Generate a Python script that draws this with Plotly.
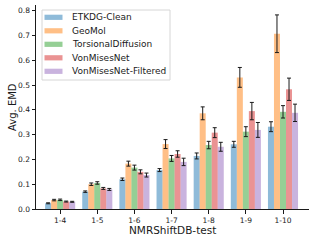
import plotly.graph_objects as go

groups = ["1-4", "1-5", "1-6", "1-7", "1-8", "1-9", "1-10"]
series_names = ["ETKDG-Clean", "GeoMol", "TorsionalDiffusion", "VonMisesNet", "VonMisesNet-Filtered"]
etkdg = [0.023, 0.070, 0.120, 0.157, 0.214, 0.261, 0.332]
geomol = [0.036, 0.100, 0.183, 0.262, 0.386, 0.531, 0.707]
torsional = [0.037, 0.105, 0.167, 0.204, 0.258, 0.312, 0.392]
vonmises = [0.030, 0.083, 0.150, 0.222, 0.308, 0.395, 0.483]
vonmises_f = [0.029, 0.079, 0.137, 0.190, 0.251, 0.319, 0.388]
etkdg_err = [0.002, 0.003, 0.005, 0.006, 0.012, 0.012, 0.020]
geomol_err = [0.003, 0.005, 0.010, 0.018, 0.026, 0.040, 0.076]
torsional_err = [0.003, 0.005, 0.010, 0.012, 0.015, 0.020, 0.025]
vonmises_err = [0.002, 0.004, 0.008, 0.013, 0.020, 0.035, 0.045]
vonmises_f_err = [0.002, 0.004, 0.008, 0.015, 0.018, 0.030, 0.035]
colors = ["rgba(31,119,180,0.5)", "rgba(255,127,14,0.5)", "rgba(44,160,44,0.5)",
          "rgba(214,39,40,0.5)", "rgba(148,103,189,0.5)"]

values = [etkdg, geomol, torsional, vonmises, vonmises_f]
errors = [etkdg_err, geomol_err, torsional_err, vonmises_err, vonmises_f_err]

W, H = 315, 241
ML, MR, MT, MB = 36, 6, 5, 32
PW, PH = W - ML - MR, H - MT - MB


def px_x(px):
    return (px - ML) / PW


def px_y(py):
    return (H - MB - py) / PH


fig = go.Figure()
for name, v, e, c in zip(series_names, values, errors, colors):
    fig.add_trace(go.Bar(
        x=list(range(len(groups))), y=v, name=name,
        marker=dict(color=c, line=dict(width=0)),
        error_y=dict(type="data", array=e, color="#1a1a1a", thickness=1, width=2),
        showlegend=False,
    ))

shapes = []
annotations = []
# legend box
x0, x1 = px_x(42), px_x(170)
y0, y1 = px_y(80), px_y(10)
shapes.append(dict(type="rect", xref="paper", yref="paper", x0=x0, x1=x1, y0=y0, y1=y1,
                   line=dict(color="#d6d6d6", width=1), fillcolor="rgba(255,255,255,0.8)", layer="above"))
for i, (name, c) in enumerate(zip(series_names, colors)):
    cy = 17.3 + i * 13.5
    shapes.append(dict(type="rect", xref="paper", yref="paper",
                       x0=px_x(44.5), x1=px_x(62.5), y0=px_y(cy + 2.6), y1=px_y(cy - 2.6),
                       line=dict(width=0), fillcolor=c, layer="above"))
    annotations.append(dict(text=name, xref="paper", yref="paper", x=px_x(70), y=px_y(cy),
                            xanchor="left", yanchor="middle", showarrow=False,
                            font=dict(size=9, family="DejaVu Sans", color="#1a1a1a")))

annotations.append(dict(text="NMRShiftDB-test", xref="paper", yref="paper", x=0.5, y=px_y(229.5),
                        xanchor="center", yanchor="middle", showarrow=False,
                        font=dict(size=10.5, family="DejaVu Sans", color="#1a1a1a")))
annotations.append(dict(text="Avg. EMD", xref="paper", yref="paper", x=px_x(12), y=0.5,
                        xanchor="center", yanchor="middle", showarrow=False, textangle=-90,
                        font=dict(size=10, family="DejaVu Sans", color="#1a1a1a")))

fig.update_layout(
    width=W, height=H,
    margin=dict(l=ML, r=MR, t=MT, b=MB),
    paper_bgcolor="white", plot_bgcolor="white",
    barmode="group", bargap=0.19, bargroupgap=0.0,
    font=dict(family="DejaVu Sans", color="#1a1a1a"),
    showlegend=False,
    shapes=shapes, annotations=annotations,
    xaxis=dict(
        tickmode="array", tickvals=list(range(len(groups))), ticktext=groups,
        range=[-0.65, 6.7], showline=True, linecolor="#1a1a1a", linewidth=1,
        ticks="outside", ticklen=3.5, tickcolor="#1a1a1a", showgrid=False, zeroline=False,
        tickfont=dict(size=7.5),
    ),
    yaxis=dict(
        range=[0, 0.823], tickvals=[0, 0.1, 0.2, 0.3, 0.4, 0.5, 0.6, 0.7, 0.8],
        tickformat=".1f", showline=True, linecolor="#1a1a1a", linewidth=1,
        ticks="outside", ticklen=3.5, tickcolor="#1a1a1a", showgrid=False, zeroline=False,
        tickfont=dict(size=7.5),
    ),
)

fig.write_html("out.html", config={"displayModeBar": False},
               post_script="document.body.style.margin='0';document.body.style.overflow='hidden';")
